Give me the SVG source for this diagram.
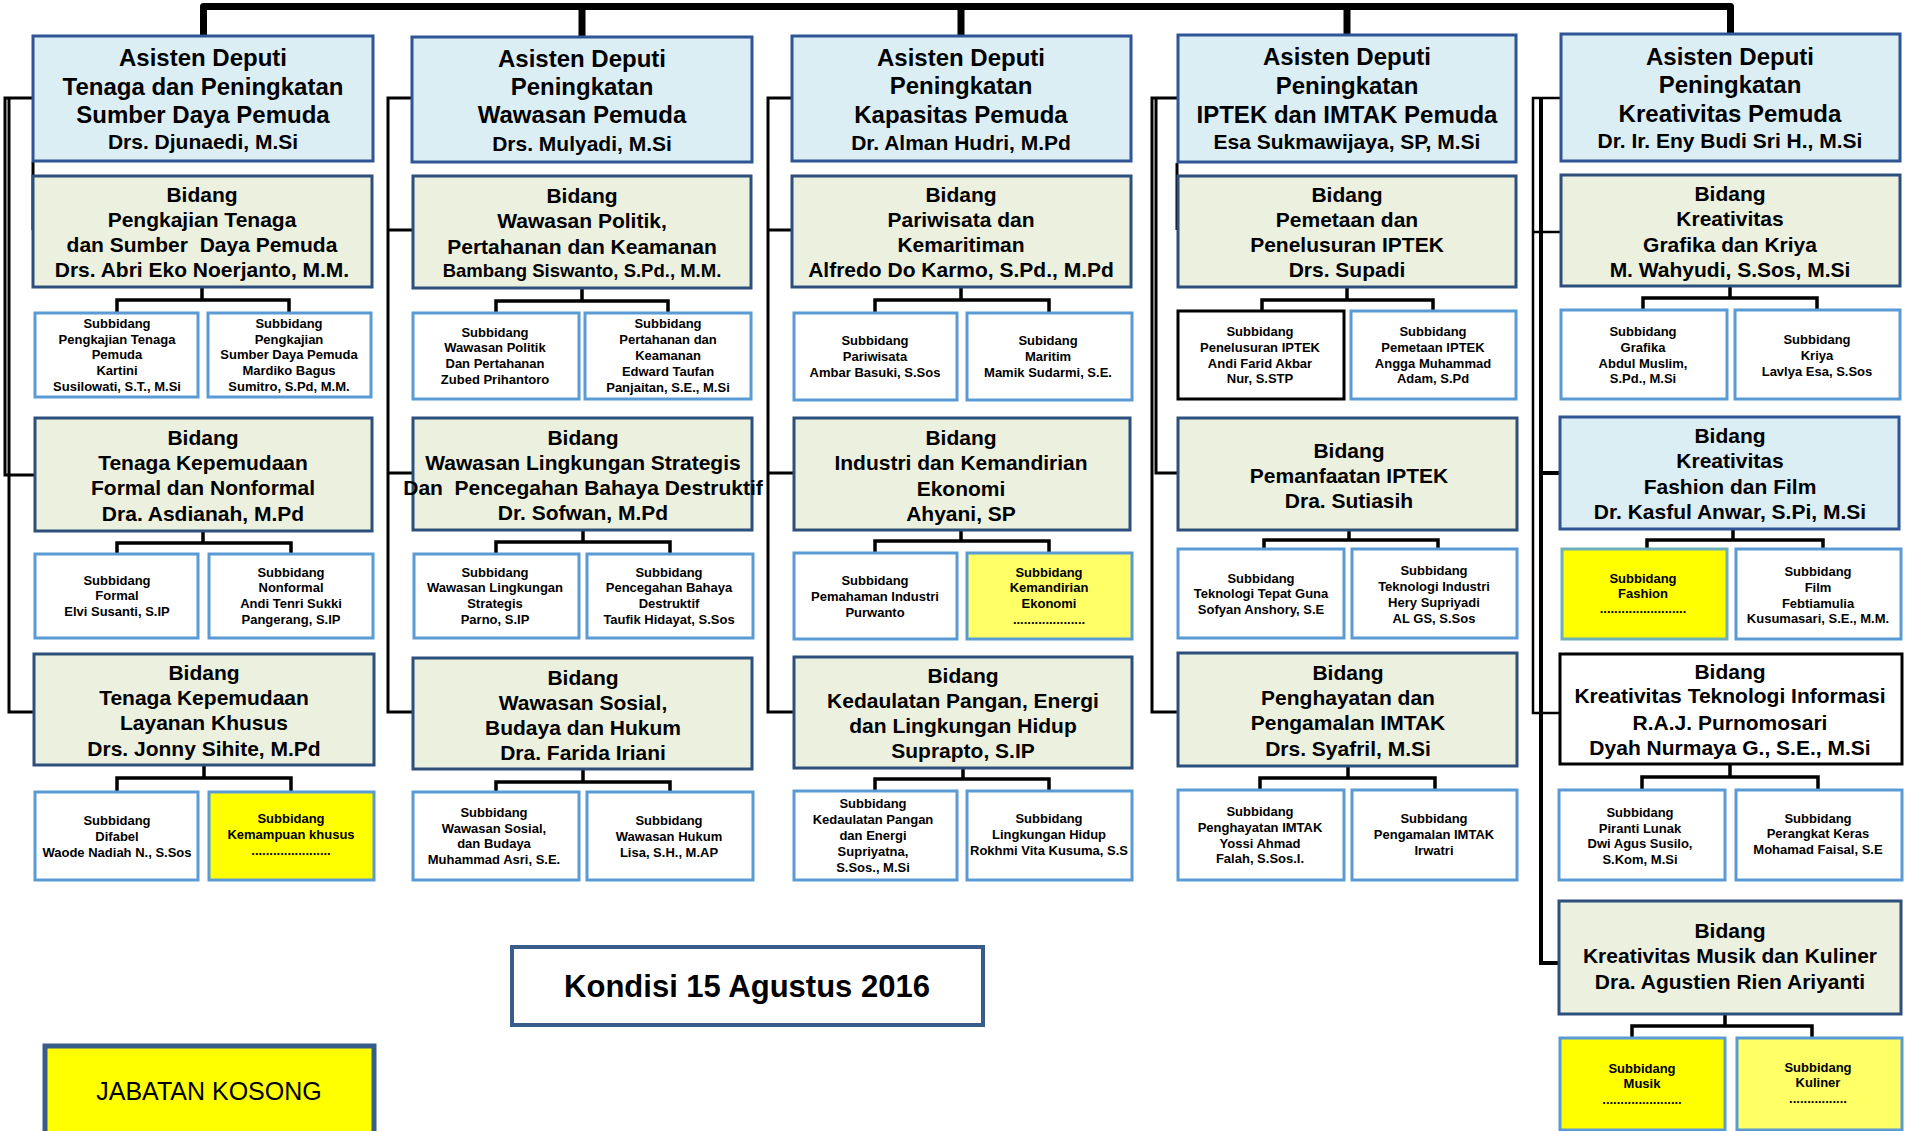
<svg xmlns="http://www.w3.org/2000/svg" width="1915" height="1131" viewBox="0 0 1915 1131">
<style>
.ad{fill:#DBEEF4;stroke:#2F5597;stroke-width:3}
.bd{fill:#EBF1DE;stroke:#2C4F7C;stroke-width:3}
.bdw{fill:#FFFFFF;stroke:#000;stroke-width:3}
.sb{fill:#FFFFFF;stroke:#5B9BD5;stroke-width:3}
.sbk{fill:#FFFFFF;stroke:#000;stroke-width:3}
.sy{fill:#FFFF00;stroke:#5B9BD5;stroke-width:3}
.sy2{fill:#FFFF66;stroke:#5B9BD5;stroke-width:3}
text{font-family:"Liberation Sans",Arial,sans-serif;font-weight:bold;text-anchor:middle;fill:#000}
.t1{font-size:24px}
.t1 .nm{font-size:21px}
.t2{font-size:21px}
.t3{font-size:13px}
.c{fill:none;stroke:#000;stroke-width:3.5}
.cl{fill:none;stroke:#000;stroke-width:3}
.bus{fill:none;stroke:#000;stroke-width:7;stroke-linejoin:round}
</style>

<g id="connectors">
<path class="bus" d="M203.5,35 V6.5 H1730.5 V35 M582,6.5 V36 M961,6.5 V36 M1347,6.5 V35"/>
<!-- column 1 left -->
<path class="cl" d="M33,98 H5 V475 H35"/>
<path class="cl" d="M9,98 V712 H34"/>
<path class="cl" d="M33,162 V230"/>
<!-- column 2 left -->
<path class="cl" d="M412,98 H388 V712 H413 M388,230 H413 M388,473 H413"/>
<!-- column 3 left -->
<path class="cl" d="M792,98 H768 V712 H794 M768,230 H792 M768,473 H794"/>
<!-- column 4 left -->
<path class="cl" d="M1178,98 H1152 V712 H1178"/>
<path class="cl" d="M1156,98 V473 H1178"/>
<path class="cl" d="M1177,163 V230"/>
<!-- column 5 left -->
<path class="cl" d="M1561,98 H1533 V713 H1560 M1533,232 H1561" style="stroke-width:2.5"/>
<path class="cl" d="M1541,98 V963 H1559 M1541,473 H1560" style="stroke-width:4"/>
<!-- sub connectors -->
<path class="c" d="M202,288 V300 M117,312 V300 H289 V312"/>
<path class="c" d="M203,532 V543 M117,554 V543 H291 V554"/>
<path class="c" d="M204,766 V778 M117,792 V778 H291 V792"/>
<path class="c" d="M582,289 V301 M496,313 V301 H668 V313"/>
<path class="c" d="M583,531 V542 M496,554 V542 H670 V554"/>
<path class="c" d="M583,770 V782 M496,792 V782 H670 V792"/>
<path class="c" d="M961,288 V300 M875,313 V300 H1049 V313"/>
<path class="c" d="M961,531 V541 M875,553 V541 H1049 V553"/>
<path class="c" d="M963,769 V779 M875,791 V779 H1049 V791"/>
<path class="c" d="M1347,288 V300 M1262,311 V300 H1433 V311"/>
<path class="c" d="M1349,531 V540 M1264,549 V540 H1438 V549"/>
<path class="c" d="M1348,767 V778 M1260,790 V778 H1435 V790"/>
<path class="c" d="M1730,287 V298 M1643,310 V298 H1817 V310"/>
<path class="c" d="M1733,530 V540 M1647,549 V540 H1823 V549"/>
<path class="c" d="M1730,765 V777 M1642,790 V777 H1818 V790"/>
<path class="c" d="M1725,1015 V1026 M1632,1038 V1026 H1812 V1038"/>
</g>

<!-- Column 1 -->
<g id="ad1"><rect class="ad" x="33" y="36" width="340" height="125"/>
<text class="t1"><tspan x="203" y="66">Asisten Deputi</tspan><tspan x="203" y="95">Tenaga dan Peningkatan</tspan><tspan x="203" y="123">Sumber Daya Pemuda</tspan><tspan class="nm" x="203" y="149">Drs. Djunaedi, M.Si</tspan></text></g>
<g id="b1-1"><rect class="bd" x="33" y="176" width="339" height="111"/>
<text class="t2"><tspan x="202" y="202">Bidang</tspan><tspan x="202" y="227">Pengkajian Tenaga</tspan><tspan x="202" y="252">dan Sumber&#160; Daya Pemuda</tspan><tspan x="202" y="277">Drs. Abri Eko Noerjanto, M.M.</tspan></text></g>
<g id="s1-1a"><rect class="sb" x="35" y="313" width="163" height="84"/>
<text class="t3"><tspan x="117" y="328">Subbidang</tspan><tspan x="117" y="344">Pengkajian Tenaga</tspan><tspan x="117" y="359">Pemuda</tspan><tspan x="117" y="375">Kartini</tspan><tspan x="117" y="391">Susilowati, S.T., M.Si</tspan></text></g>
<g id="s1-1b"><rect class="sb" x="208" y="313" width="163" height="84"/>
<text class="t3"><tspan x="289" y="328">Subbidang</tspan><tspan x="289" y="344">Pengkajian</tspan><tspan x="289" y="359">Sumber Daya Pemuda</tspan><tspan x="289" y="375">Mardiko Bagus</tspan><tspan x="289" y="391">Sumitro, S.Pd, M.M.</tspan></text></g>
<g id="b1-2"><rect class="bd" x="35" y="418" width="337" height="113"/>
<text class="t2"><tspan x="203" y="445">Bidang</tspan><tspan x="203" y="470">Tenaga Kepemudaan</tspan><tspan x="203" y="495">Formal dan Nonformal</tspan><tspan x="203" y="521">Dra. Asdianah, M.Pd</tspan></text></g>
<g id="s1-2a"><rect class="sb" x="35" y="554" width="163" height="84"/>
<text class="t3"><tspan x="117" y="585">Subbidang</tspan><tspan x="117" y="600">Formal</tspan><tspan x="117" y="616">Elvi Susanti, S.IP</tspan></text></g>
<g id="s1-2b"><rect class="sb" x="209" y="554" width="164" height="84"/>
<text class="t3"><tspan x="291" y="577">Subbidang</tspan><tspan x="291" y="592">Nonformal</tspan><tspan x="291" y="608">Andi Tenri Sukki</tspan><tspan x="291" y="624">Pangerang, S.IP</tspan></text></g>
<g id="b1-3"><rect class="bd" x="34" y="654" width="340" height="111"/>
<text class="t2"><tspan x="204" y="680">Bidang</tspan><tspan x="204" y="705">Tenaga Kepemudaan</tspan><tspan x="204" y="730">Layanan Khusus</tspan><tspan x="204" y="756">Drs. Jonny Sihite, M.Pd</tspan></text></g>
<g id="s1-3a"><rect class="sb" x="35" y="792" width="163" height="88"/>
<text class="t3"><tspan x="117" y="825">Subbidang</tspan><tspan x="117" y="841">Difabel</tspan><tspan x="117" y="857">Waode Nadiah N., S.Sos</tspan></text></g>
<g id="s1-3b"><rect class="sy" x="209" y="792" width="165" height="88"/>
<text class="t3"><tspan x="291" y="823">Subbidang</tspan><tspan x="291" y="839">Kemampuan khusus</tspan><tspan x="291" y="855">......................</tspan></text></g>

<!-- Column 2 -->
<g id="ad2"><rect class="ad" x="412" y="37" width="340" height="125"/>
<text class="t1"><tspan x="582" y="67">Asisten Deputi</tspan><tspan x="582" y="95">Peningkatan</tspan><tspan x="582" y="123">Wawasan Pemuda</tspan><tspan class="nm" x="582" y="151">Drs. Mulyadi, M.Si</tspan></text></g>
<g id="b2-1"><rect class="bd" x="413" y="176" width="338" height="112"/>
<text class="t2"><tspan x="582" y="203">Bidang</tspan><tspan x="582" y="228">Wawasan Politik,</tspan><tspan x="582" y="254">Pertahanan dan Keamanan</tspan><tspan x="582" y="277" style="font-size:18.5px">Bambang Siswanto, S.Pd., M.M.</tspan></text></g>
<g id="s2-1a"><rect class="sb" x="413" y="313" width="166" height="86"/>
<text class="t3"><tspan x="495" y="337">Subbidang</tspan><tspan x="495" y="352">Wawasan Politik</tspan><tspan x="495" y="368">Dan Pertahanan</tspan><tspan x="495" y="384">Zubed Prihantoro</tspan></text></g>
<g id="s2-1b"><rect class="sb" x="585" y="313" width="166" height="86"/>
<text class="t3"><tspan x="668" y="328">Subbidang</tspan><tspan x="668" y="344">Pertahanan dan</tspan><tspan x="668" y="360">Keamanan</tspan><tspan x="668" y="376">Edward Taufan</tspan><tspan x="668" y="392">Panjaitan, S.E., M.Si</tspan></text></g>
<g id="b2-2"><rect class="bd" x="413" y="418" width="339" height="112"/>
<text class="t2"><tspan x="583" y="445">Bidang</tspan><tspan x="583" y="470">Wawasan Lingkungan Strategis</tspan><tspan x="583" y="495">Dan&#160; Pencegahan Bahaya Destruktif</tspan><tspan x="583" y="520">Dr. Sofwan, M.Pd</tspan></text></g>
<g id="s2-2a"><rect class="sb" x="414" y="554" width="165" height="84"/>
<text class="t3"><tspan x="495" y="577">Subbidang</tspan><tspan x="495" y="592">Wawasan Lingkungan</tspan><tspan x="495" y="608">Strategis</tspan><tspan x="495" y="624">Parno, S.IP</tspan></text></g>
<g id="s2-2b"><rect class="sb" x="587" y="554" width="166" height="84"/>
<text class="t3"><tspan x="669" y="577">Subbidang</tspan><tspan x="669" y="592">Pencegahan Bahaya</tspan><tspan x="669" y="608">Destruktif</tspan><tspan x="669" y="624">Taufik Hidayat, S.Sos</tspan></text></g>
<g id="b2-3"><rect class="bd" x="413" y="658" width="339" height="111"/>
<text class="t2"><tspan x="583" y="685">Bidang</tspan><tspan x="583" y="710">Wawasan Sosial,</tspan><tspan x="583" y="735">Budaya dan Hukum</tspan><tspan x="583" y="760">Dra. Farida Iriani</tspan></text></g>
<g id="s2-3a"><rect class="sb" x="413" y="792" width="166" height="88"/>
<text class="t3"><tspan x="494" y="817">Subbidang</tspan><tspan x="494" y="833">Wawasan Sosial,</tspan><tspan x="494" y="848">dan Budaya</tspan><tspan x="494" y="864">Muhammad Asri, S.E.</tspan></text></g>
<g id="s2-3b"><rect class="sb" x="587" y="792" width="166" height="88"/>
<text class="t3"><tspan x="669" y="825">Subbidang</tspan><tspan x="669" y="841">Wawasan Hukum</tspan><tspan x="669" y="857">Lisa, S.H., M.AP</tspan></text></g>

<!-- Column 3 -->
<g id="ad3"><rect class="ad" x="792" y="36" width="339" height="125"/>
<text class="t1"><tspan x="961" y="66">Asisten Deputi</tspan><tspan x="961" y="94">Peningkatan</tspan><tspan x="961" y="123">Kapasitas Pemuda</tspan><tspan class="nm" x="961" y="150">Dr. Alman Hudri, M.Pd</tspan></text></g>
<g id="b3-1"><rect class="bd" x="792" y="176" width="339" height="111"/>
<text class="t2"><tspan x="961" y="202">Bidang</tspan><tspan x="961" y="227">Pariwisata dan</tspan><tspan x="961" y="252">Kemaritiman</tspan><tspan x="961" y="277">Alfredo Do Karmo, S.Pd., M.Pd</tspan></text></g>
<g id="s3-1a"><rect class="sb" x="794" y="313" width="163" height="87"/>
<text class="t3"><tspan x="875" y="345">Subbidang</tspan><tspan x="875" y="361">Pariwisata</tspan><tspan x="875" y="377">Ambar Basuki, S.Sos</tspan></text></g>
<g id="s3-1b"><rect class="sb" x="967" y="313" width="165" height="87"/>
<text class="t3"><tspan x="1048" y="345">Subidang</tspan><tspan x="1048" y="361">Maritim</tspan><tspan x="1048" y="377">Mamik Sudarmi, S.E.</tspan></text></g>
<g id="b3-2"><rect class="bd" x="794" y="418" width="336" height="112"/>
<text class="t2"><tspan x="961" y="445">Bidang</tspan><tspan x="961" y="470">Industri dan Kemandirian</tspan><tspan x="961" y="496">Ekonomi</tspan><tspan x="961" y="521">Ahyani, SP</tspan></text></g>
<g id="s3-2a"><rect class="sb" x="794" y="553" width="163" height="86"/>
<text class="t3"><tspan x="875" y="585">Subbidang</tspan><tspan x="875" y="601">Pemahaman Industri</tspan><tspan x="875" y="617">Purwanto</tspan></text></g>
<g id="s3-2b"><rect class="sy2" x="967" y="553" width="165" height="86"/>
<text class="t3"><tspan x="1049" y="577">Subbidang</tspan><tspan x="1049" y="592">Kemandirian</tspan><tspan x="1049" y="608">Ekonomi</tspan><tspan x="1049" y="624">....................</tspan></text></g>
<g id="b3-3"><rect class="bd" x="794" y="657" width="338" height="111"/>
<text class="t2"><tspan x="963" y="683">Bidang</tspan><tspan x="963" y="708">Kedaulatan Pangan, Energi</tspan><tspan x="963" y="733">dan Lingkungan Hidup</tspan><tspan x="963" y="758">Suprapto, S.IP</tspan></text></g>
<g id="s3-3a"><rect class="sb" x="794" y="791" width="163" height="89"/>
<text class="t3"><tspan x="873" y="808">Subbidang</tspan><tspan x="873" y="824">Kedaulatan Pangan</tspan><tspan x="873" y="840">dan Energi</tspan><tspan x="873" y="856">Supriyatna,</tspan><tspan x="873" y="872">S.Sos., M.Si</tspan></text></g>
<g id="s3-3b"><rect class="sb" x="967" y="791" width="165" height="89"/>
<text class="t3"><tspan x="1049" y="823">Subbidang</tspan><tspan x="1049" y="839">Lingkungan Hidup</tspan><tspan x="1049" y="855">Rokhmi Vita Kusuma, S.S</tspan></text></g>

<!-- Column 4 -->
<g id="ad4"><rect class="ad" x="1178" y="35" width="338" height="127"/>
<text class="t1"><tspan x="1347" y="65">Asisten Deputi</tspan><tspan x="1347" y="94">Peningkatan</tspan><tspan x="1347" y="123">IPTEK dan IMTAK Pemuda</tspan><tspan class="nm" x="1347" y="149">Esa Sukmawijaya, SP, M.Si</tspan></text></g>
<g id="b4-1"><rect class="bd" x="1178" y="176" width="338" height="111"/>
<text class="t2"><tspan x="1347" y="202">Bidang</tspan><tspan x="1347" y="227">Pemetaan dan</tspan><tspan x="1347" y="252">Penelusuran IPTEK</tspan><tspan x="1347" y="277">Drs. Supadi</tspan></text></g>
<g id="s4-1a"><rect class="sbk" x="1178" y="311" width="166" height="88"/>
<text class="t3"><tspan x="1260" y="336">Subbidang</tspan><tspan x="1260" y="352">Penelusuran IPTEK</tspan><tspan x="1260" y="368">Andi Farid Akbar</tspan><tspan x="1260" y="383">Nur, S.STP</tspan></text></g>
<g id="s4-1b"><rect class="sb" x="1351" y="311" width="165" height="88"/>
<text class="t3"><tspan x="1433" y="336">Subbidang</tspan><tspan x="1433" y="352">Pemetaan IPTEK</tspan><tspan x="1433" y="368">Angga Muhammad</tspan><tspan x="1433" y="383">Adam, S.Pd</tspan></text></g>
<g id="b4-2"><rect class="bd" x="1178" y="418" width="339" height="112"/>
<text class="t2"><tspan x="1349" y="458">Bidang</tspan><tspan x="1349" y="483">Pemanfaatan IPTEK</tspan><tspan x="1349" y="508">Dra. Sutiasih</tspan></text></g>
<g id="s4-2a"><rect class="sb" x="1178" y="549" width="166" height="89"/>
<text class="t3"><tspan x="1261" y="583">Subbidang</tspan><tspan x="1261" y="598">Teknologi Tepat Guna</tspan><tspan x="1261" y="614">Sofyan Anshory, S.E</tspan></text></g>
<g id="s4-2b"><rect class="sb" x="1352" y="549" width="165" height="89"/>
<text class="t3"><tspan x="1434" y="575">Subbidang</tspan><tspan x="1434" y="591">Teknologi Industri</tspan><tspan x="1434" y="607">Hery Supriyadi</tspan><tspan x="1434" y="623">AL GS, S.Sos</tspan></text></g>
<g id="b4-3"><rect class="bd" x="1178" y="653" width="339" height="113"/>
<text class="t2"><tspan x="1348" y="680">Bidang</tspan><tspan x="1348" y="705">Penghayatan dan</tspan><tspan x="1348" y="730">Pengamalan IMTAK</tspan><tspan x="1348" y="756">Drs. Syafril, M.Si</tspan></text></g>
<g id="s4-3a"><rect class="sb" x="1178" y="790" width="166" height="90"/>
<text class="t3"><tspan x="1260" y="816">Subbidang</tspan><tspan x="1260" y="832">Penghayatan IMTAK</tspan><tspan x="1260" y="848">Yossi Ahmad</tspan><tspan x="1260" y="863">Falah, S.Sos.I.</tspan></text></g>
<g id="s4-3b"><rect class="sb" x="1352" y="790" width="165" height="90"/>
<text class="t3"><tspan x="1434" y="823">Subbidang</tspan><tspan x="1434" y="839">Pengamalan IMTAK</tspan><tspan x="1434" y="855">Irwatri</tspan></text></g>

<!-- Column 5 -->
<g id="ad5"><rect class="ad" x="1561" y="34" width="339" height="127"/>
<text class="t1"><tspan x="1730" y="65">Asisten Deputi</tspan><tspan x="1730" y="93">Peningkatan</tspan><tspan x="1730" y="122">Kreativitas Pemuda</tspan><tspan class="nm" x="1730" y="148">Dr. Ir. Eny Budi Sri H., M.Si</tspan></text></g>
<g id="b5-1"><rect class="bd" x="1561" y="175" width="339" height="111"/>
<text class="t2"><tspan x="1730" y="201">Bidang</tspan><tspan x="1730" y="226">Kreativitas</tspan><tspan x="1730" y="252">Grafika dan Kriya</tspan><tspan x="1730" y="277">M. Wahyudi, S.Sos, M.Si</tspan></text></g>
<g id="s5-1a"><rect class="sb" x="1561" y="310" width="166" height="89"/>
<text class="t3"><tspan x="1643" y="336">Subbidang</tspan><tspan x="1643" y="352">Grafika</tspan><tspan x="1643" y="368">Abdul Muslim,</tspan><tspan x="1643" y="383">S.Pd., M.Si</tspan></text></g>
<g id="s5-1b"><rect class="sb" x="1735" y="310" width="165" height="89"/>
<text class="t3"><tspan x="1817" y="344">Subbidang</tspan><tspan x="1817" y="360">Kriya</tspan><tspan x="1817" y="376">Lavlya Esa, S.Sos</tspan></text></g>
<g id="b5-2"><rect class="ad" x="1560" y="417" width="339" height="112"/>
<text class="t2"><tspan x="1730" y="443">Bidang</tspan><tspan x="1730" y="468">Kreativitas</tspan><tspan x="1730" y="494">Fashion dan Film</tspan><tspan x="1730" y="519">Dr. Kasful Anwar, S.Pi, M.Si</tspan></text></g>
<g id="s5-2a"><rect class="sy" x="1562" y="549" width="165" height="90" style="stroke:#6FAFB8"/>
<text class="t3"><tspan x="1643" y="583">Subbidang</tspan><tspan x="1643" y="598">Fashion</tspan><tspan x="1643" y="613">........................</tspan></text></g>
<g id="s5-2b"><rect class="sb" x="1736" y="549" width="165" height="90"/>
<text class="t3"><tspan x="1818" y="576">Subbidang</tspan><tspan x="1818" y="592">Film</tspan><tspan x="1818" y="608">Febtiamulia</tspan><tspan x="1818" y="623">Kusumasari, S.E., M.M.</tspan></text></g>
<g id="b5-3"><rect class="bdw" x="1560" y="654" width="342" height="110"/>
<text class="t2"><tspan x="1730" y="679">Bidang</tspan><tspan x="1730" y="703">Kreativitas Teknologi Informasi</tspan><tspan x="1730" y="730">R.A.J. Purnomosari</tspan><tspan x="1730" y="755">Dyah Nurmaya G., S.E., M.Si</tspan></text></g>
<g id="s5-3a"><rect class="sb" x="1559" y="790" width="166" height="90"/>
<text class="t3"><tspan x="1640" y="817">Subbidang</tspan><tspan x="1640" y="833">Piranti Lunak</tspan><tspan x="1640" y="848">Dwi Agus Susilo,</tspan><tspan x="1640" y="864">S.Kom, M.Si</tspan></text></g>
<g id="s5-3b"><rect class="sb" x="1736" y="790" width="166" height="90"/>
<text class="t3"><tspan x="1818" y="823">Subbidang</tspan><tspan x="1818" y="838">Perangkat Keras</tspan><tspan x="1818" y="854">Mohamad Faisal, S.E</tspan></text></g>
<g id="b5-4"><rect class="bd" x="1559" y="901" width="342" height="113"/>
<text class="t2"><tspan x="1730" y="938">Bidang</tspan><tspan x="1730" y="963">Kreativitas Musik dan Kuliner</tspan><tspan x="1730" y="989">Dra. Agustien Rien Ariyanti</tspan></text></g>
<g id="s5-4a"><rect class="sy" x="1560" y="1038" width="165" height="92"/>
<text class="t3"><tspan x="1642" y="1073">Subbidang</tspan><tspan x="1642" y="1088">Musik</tspan><tspan x="1642" y="1104">......................</tspan></text></g>
<g id="s5-4b"><rect class="sy2" x="1737" y="1038" width="165" height="92"/>
<text class="t3"><tspan x="1818" y="1072">Subbidang</tspan><tspan x="1818" y="1087">Kuliner</tspan><tspan x="1818" y="1103">................</tspan></text></g>

<!-- Notes -->
<g id="kondisi"><rect x="512" y="947" width="471" height="78" fill="#FFFFFF" stroke="#385D8A" stroke-width="4"/>
<text x="747" y="997" style="font-size:31px">Kondisi 15 Agustus 2016</text></g>
<g id="legend"><rect x="45" y="1046" width="329" height="90" fill="#FFFF00" stroke="#385D8A" stroke-width="5"/>
<text x="209" y="1100" style="font-size:25px;font-weight:normal">JABATAN KOSONG</text></g>
</svg>
